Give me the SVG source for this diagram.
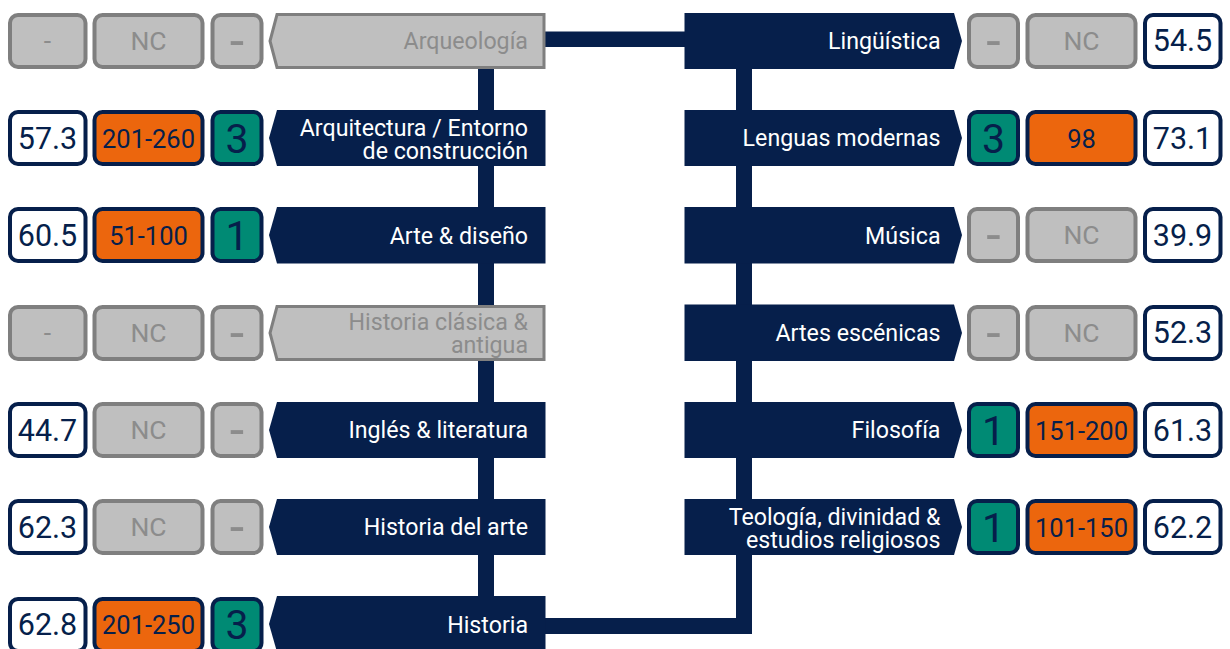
<svg xmlns="http://www.w3.org/2000/svg" width="1230" height="649" viewBox="0 0 1230 649">
<style>
text{font-family:Roboto,"Liberation Sans",sans-serif}
.b{stroke-width:4}
.w{fill:#fff;stroke:#061f4b}
.o{fill:#ec660d;stroke:#061f4b}
.t{fill:#008a74;stroke:#061f4b}
.g{fill:#bfbfbf;stroke:#7f7f7f}
.cn{fill:#061f4b}
.cg{fill:#bfbfbf;stroke:#7f7f7f;stroke-width:3}
.l{font-size:23.200px;fill:#fff;text-anchor:end}
.lg{font-size:23.200px;fill:#8c8c8c;text-anchor:end}
.v{font-size:30.500px;fill:#061f4b;text-anchor:middle}
.r{font-size:25.500px;fill:#061f4b;text-anchor:middle}
.n{font-size:41px;fill:#061f4b;text-anchor:middle}
.gn{font-size:26.500px;fill:#8c8c8c;text-anchor:middle}
.gd{font-size:52px;fill:#8c8c8c;text-anchor:middle}
</style>
<g id="connectors" fill="#061f4b">
<rect x="478" y="60" width="16" height="550"/>
<rect x="736" y="60" width="16" height="574"/>
<rect x="540" y="31.500" width="150" height="15.500"/>
<rect x="540" y="618" width="212" height="16"/>
</g>
<g id="arqueologia"><rect class="b g" x="10" y="15" width="75.500" height="52" rx="8"/><rect class="b g" x="94.500" y="15" width="108" height="52" rx="8"/><rect class="b g" x="212.500" y="15" width="49" height="52" rx="8"/><path class="cg" d="M277 14.500H544V67.500H277L270 41Z"/><text class="gn" x="47.500" y="50">-</text><text class="gn" x="148.500" y="50">NC</text><text class="gd" x="237" y="59">-</text><text class="lg" x="528" y="49">Arqueología</text></g>
<g id="arquitectura"><rect class="b w" x="10" y="112" width="75.500" height="52" rx="8"/><rect class="b o" x="94.500" y="112" width="108" height="52" rx="8"/><rect class="b t" x="212.500" y="112" width="49" height="52" rx="8"/><path class="cn" d="M277 110H545.500V166H277L269 138Z"/><text class="v" x="47.500" y="149">57.3</text><text class="r" x="148.500" y="147.500">201-260</text><text class="n" x="237" y="153">3</text><text class="l" x="528" y="136">Arquitectura / Entorno</text><text class="l" x="528" y="159">de construcción</text></g>
<g id="arte"><rect class="b w" x="10" y="209" width="75.500" height="52" rx="8"/><rect class="b o" x="94.500" y="209" width="108" height="52" rx="8"/><rect class="b t" x="212.500" y="209" width="49" height="52" rx="8"/><path class="cn" d="M277 207H545.500V263.500H277L269 235Z"/><text class="v" x="47.500" y="246">60.5</text><text class="r" x="148.500" y="244.500">51-100</text><text class="n" x="237" y="250">1</text><text class="l" x="528" y="244">Arte &amp; diseño</text></g>
<g id="clasica"><rect class="b g" x="10" y="307" width="75.500" height="52" rx="8"/><rect class="b g" x="94.500" y="307" width="108" height="52" rx="8"/><rect class="b g" x="212.500" y="307" width="49" height="52" rx="8"/><path class="cg" d="M277 306.500H544V359.500H277L270 333Z"/><text class="gn" x="47.500" y="342">-</text><text class="gn" x="148.500" y="342">NC</text><text class="gd" x="237" y="351">-</text><text class="lg" x="528" y="330">Historia clásica &amp;</text><text class="lg" x="528" y="353">antigua</text></g>
<g id="ingles"><rect class="b w" x="10" y="404" width="75.500" height="52" rx="8"/><rect class="b g" x="94.500" y="404" width="108" height="52" rx="8"/><rect class="b g" x="212.500" y="404" width="49" height="52" rx="8"/><path class="cn" d="M277 402H545.500V458H277L269 430Z"/><text class="v" x="47.500" y="441">44.7</text><text class="gn" x="148.500" y="439">NC</text><text class="gd" x="237" y="448">-</text><text class="l" x="528" y="438">Inglés &amp; literatura</text></g>
<g id="historia-arte"><rect class="b w" x="10" y="501" width="75.500" height="52" rx="8"/><rect class="b g" x="94.500" y="501" width="108" height="52" rx="8"/><rect class="b g" x="212.500" y="501" width="49" height="52" rx="8"/><path class="cn" d="M277 499H545.500V555H277L269 527Z"/><text class="v" x="47.500" y="538">62.3</text><text class="gn" x="148.500" y="536">NC</text><text class="gd" x="237" y="545">-</text><text class="l" x="528" y="535">Historia del arte</text></g>
<g id="historia"><rect class="b w" x="10" y="599" width="75.500" height="52" rx="8"/><rect class="b o" x="94.500" y="599" width="108" height="52" rx="8"/><rect class="b t" x="212.500" y="599" width="49" height="52" rx="8"/><path class="cn" d="M277 596H545.500V652H277L269 624Z"/><text class="v" x="47.500" y="635">62.8</text><text class="r" x="148.500" y="633.500">201-250</text><text class="n" x="237" y="639">3</text><text class="l" x="528" y="633">Historia</text></g>
<g id="linguistica"><path class="cn" d="M684.500 13H954L962 41L954 69H684.500Z"/><rect class="b g" x="969" y="15" width="49" height="52" rx="8"/><rect class="b g" x="1027.500" y="15" width="108" height="52" rx="8"/><rect class="b w" x="1145" y="15" width="75.500" height="52" rx="8"/><text class="l" x="940.500" y="49">Lingüística</text><text class="gd" x="993.500" y="59">-</text><text class="gn" x="1081.500" y="50">NC</text><text class="v" x="1182.500" y="51">54.5</text></g>
<g id="lenguas"><path class="cn" d="M684.500 110H954L962 138L954 166H684.500Z"/><rect class="b t" x="969" y="112" width="49" height="52" rx="8"/><rect class="b o" x="1027.500" y="112" width="108" height="52" rx="8"/><rect class="b w" x="1145" y="112" width="75.500" height="52" rx="8"/><text class="l" x="940.500" y="146">Lenguas modernas</text><text class="n" x="993.500" y="153">3</text><text class="r" x="1081.500" y="147.500">98</text><text class="v" x="1182.500" y="149">73.1</text></g>
<g id="musica"><path class="cn" d="M684.500 207H954L962 235L954 263.500H684.500Z"/><rect class="b g" x="969" y="209" width="49" height="52" rx="8"/><rect class="b g" x="1027.500" y="209" width="108" height="52" rx="8"/><rect class="b w" x="1145" y="209" width="75.500" height="52" rx="8"/><text class="l" x="940.500" y="244">Música</text><text class="gd" x="993.500" y="253">-</text><text class="gn" x="1081.500" y="244">NC</text><text class="v" x="1182.500" y="246">39.9</text></g>
<g id="escenicas"><path class="cn" d="M684.500 304.500H954L962 333L954 361H684.500Z"/><rect class="b g" x="969" y="307" width="49" height="52" rx="8"/><rect class="b g" x="1027.500" y="307" width="108" height="52" rx="8"/><rect class="b w" x="1145" y="307" width="75.500" height="52" rx="8"/><text class="l" x="940.500" y="341">Artes escénicas</text><text class="gd" x="993.500" y="351">-</text><text class="gn" x="1081.500" y="342">NC</text><text class="v" x="1182.500" y="343">52.3</text></g>
<g id="filosofia"><path class="cn" d="M684.500 402H954L962 430L954 458H684.500Z"/><rect class="b t" x="969" y="404" width="49" height="52" rx="8"/><rect class="b o" x="1027.500" y="404" width="108" height="52" rx="8"/><rect class="b w" x="1145" y="404" width="75.500" height="52" rx="8"/><text class="l" x="940.500" y="438">Filosofía</text><text class="n" x="993.500" y="445">1</text><text class="r" x="1081.500" y="439.500">151-200</text><text class="v" x="1182.500" y="441">61.3</text></g>
<g id="teologia"><path class="cn" d="M684.500 499H954L962 527L954 555H684.500Z"/><rect class="b t" x="969" y="501" width="49" height="52" rx="8"/><rect class="b o" x="1027.500" y="501" width="108" height="52" rx="8"/><rect class="b w" x="1145" y="501" width="75.500" height="52" rx="8"/><text class="l" x="940.500" y="525">Teología, divinidad &amp;</text><text class="l" x="940.500" y="548">estudios religiosos</text><text class="n" x="993.500" y="542">1</text><text class="r" x="1081.500" y="536.500">101-150</text><text class="v" x="1182.500" y="538">62.2</text></g>
</svg>
